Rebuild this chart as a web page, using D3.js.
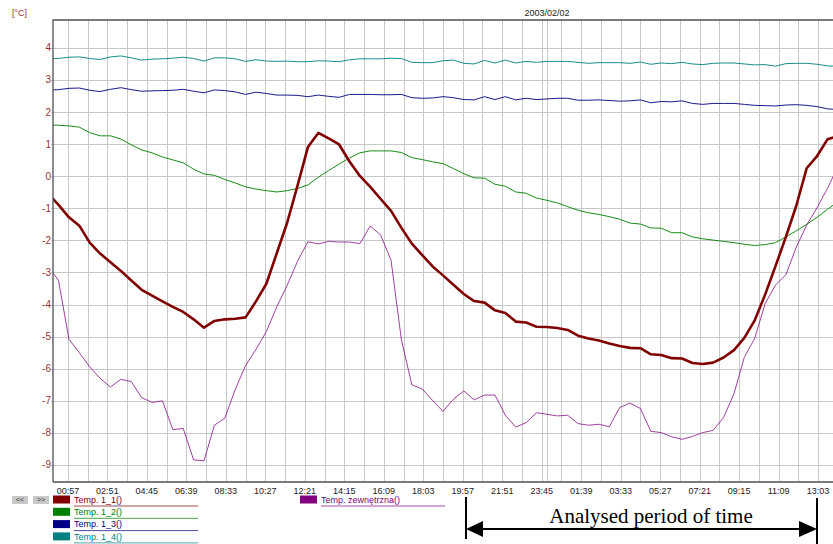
<!DOCTYPE html>
<meta charset="utf-8">
<style>
body { margin: 0; background: #fff; }
text { font-family: Arial, "Liberation Sans", sans-serif; }
</style>
<body>
<svg id="chart" width="833" height="544"></svg>
</body>
<script src="https://d3js.org/d3.v7.min.js"></script>
<script>

// half-hour samples, 2003/02/01 00:00 .. 2003/02/02 14:00
var times = d3.timeMinute.every(30).range(new Date(2003, 1, 1, 0, 0), new Date(2003, 1, 2, 14, 1));

var temp11 = [-0.55,-0.89,-1.28,-1.54,-2.07,-2.41,-2.68,-2.95,-3.25,-3.54,
  -3.72,-3.90,-4.07,-4.23,-4.46,-4.72,-4.51,-4.46,-4.44,-4.40,
  -3.90,-3.35,-2.40,-1.45,-0.29,0.91,1.35,1.18,0.99,0.46,
  0.01,-0.33,-0.71,-1.08,-1.61,-2.10,-2.46,-2.81,-3.09,-3.38,
  -3.67,-3.89,-3.94,-4.18,-4.26,-4.53,-4.56,-4.69,-4.70,-4.73,
  -4.79,-4.97,-5.06,-5.12,-5.21,-5.29,-5.35,-5.36,-5.55,-5.57,
  -5.67,-5.68,-5.82,-5.85,-5.81,-5.65,-5.42,-5.04,-4.49,-3.69,
  -2.80,-1.89,-0.92,0.25,0.63,1.15,1.25];

var temp12 = [1.60,1.59,1.57,1.53,1.36,1.26,1.26,1.16,0.98,0.82,
  0.73,0.60,0.51,0.42,0.22,0.07,0.03,-0.10,-0.21,-0.33,
  -0.40,-0.45,-0.49,-0.45,-0.38,-0.27,-0.03,0.18,0.38,0.57,
  0.73,0.79,0.79,0.79,0.74,0.58,0.52,0.45,0.39,0.24,
  0.08,-0.05,-0.06,-0.25,-0.31,-0.49,-0.53,-0.68,-0.75,-0.83,
  -0.95,-1.06,-1.14,-1.19,-1.26,-1.34,-1.46,-1.49,-1.61,-1.62,
  -1.76,-1.76,-1.89,-1.95,-1.99,-2.03,-2.07,-2.12,-2.16,-2.13,
  -2.07,-1.89,-1.70,-1.50,-1.28,-1.03,-0.80];

var temp13 = [2.68,2.70,2.74,2.75,2.68,2.64,2.71,2.76,2.70,2.65,
  2.66,2.67,2.68,2.71,2.65,2.60,2.69,2.67,2.63,2.55,
  2.62,2.58,2.53,2.53,2.52,2.48,2.53,2.49,2.46,2.55,
  2.55,2.55,2.54,2.54,2.55,2.45,2.43,2.44,2.48,2.45,
  2.39,2.38,2.48,2.39,2.48,2.38,2.43,2.39,2.41,2.43,
  2.43,2.37,2.37,2.38,2.36,2.34,2.35,2.38,2.29,2.33,
  2.32,2.35,2.27,2.24,2.27,2.27,2.27,2.24,2.21,2.20,
  2.19,2.22,2.23,2.21,2.17,2.10,2.08];

var temp14 = [3.66,3.67,3.71,3.72,3.67,3.64,3.72,3.75,3.69,3.62,
  3.65,3.66,3.68,3.71,3.67,3.59,3.69,3.69,3.66,3.58,
  3.63,3.59,3.58,3.59,3.57,3.57,3.60,3.59,3.57,3.63,
  3.66,3.66,3.66,3.68,3.67,3.55,3.54,3.54,3.60,3.62,
  3.52,3.50,3.61,3.53,3.62,3.53,3.58,3.55,3.58,3.58,
  3.58,3.55,3.52,3.54,3.54,3.54,3.52,3.56,3.49,3.53,
  3.51,3.55,3.50,3.48,3.52,3.53,3.53,3.50,3.47,3.48,
  3.43,3.51,3.52,3.52,3.49,3.44,3.43];

var tempOut = [-2.80,-3.25,-5.08,-5.50,-5.94,-6.30,-6.57,-6.33,-6.40,-6.90,
  -7.05,-7.00,-7.90,-7.86,-8.84,-8.87,-7.76,-7.54,-6.65,-5.90,
  -5.40,-4.84,-4.07,-3.40,-2.65,-2.04,-2.11,-2.03,-2.05,-2.05,
  -2.10,-1.55,-1.83,-2.62,-5.10,-6.50,-6.63,-6.99,-7.33,-6.95,
  -6.69,-6.97,-6.82,-6.82,-7.45,-7.82,-7.68,-7.37,-7.42,-7.47,
  -7.45,-7.71,-7.76,-7.73,-7.81,-7.21,-7.07,-7.24,-7.95,-7.99,
  -8.12,-8.20,-8.11,-7.99,-7.92,-7.52,-6.78,-5.64,-5.05,-3.97,
  -3.39,-3.07,-2.21,-1.52,-0.98,-0.38,0.30];

var seriesNames = ["Temp. 1_1()", "Temp. 1_2()", "Temp. 1_3()", "Temp. 1_4()", "Temp. zewnętrzna()"];
var seriesColors = ["#800000", "#008000", "#000080", "#008080", "#800080"];
var seriesValues = [temp11, temp12, temp13, temp14, tempOut];
var seriesWidths = [2.6, 1, 1, 1, 1];

var xTickLabels = ["00:57","02:51","04:45","06:39","08:33","10:27","12:21","14:15","16:09","18:03",
  "19:57","21:51","23:45","01:39","03:33","05:27","07:21","09:15","11:09","13:03"];
var yTicks = [4, 3, 2, 1, 0, -1, -2, -3, -4, -5, -6, -7, -8, -9];

var svg = d3.select("#chart"),
    plotLeft = 53, plotRight = 833, plotTop = 20, plotBottom = 482;

var x = d3.scaleTime()
    .domain([new Date(2003, 1, 1, 0, 14), new Date(2003, 1, 2, 13, 46)])
    .range([plotLeft, plotRight]);

var y = d3.scaleLinear()
    .domain([-9.53, 4.87])
    .range([plotBottom, plotTop]);

// grid lines every 57 minutes, every second one labelled
var day0 = new Date(2003, 1, 1, 0, 0);
var gridTimes = d3.range(0, 41).map(function(i) { return d3.timeMinute.offset(day0, 57 * i); })
    .filter(function(t) { return t >= x.domain()[0] && t <= x.domain()[1]; });
var labelTimes = xTickLabels.map(function(s, i) { return d3.timeMinute.offset(day0, 57 * (2 * i + 1)); });
var midnight = new Date(2003, 1, 2, 0, 0);

svg.append("rect").attr("width", 833).attr("height", 544).attr("fill", "#fff");

var grid = svg.append("g").attr("stroke", "#c8c8c8").attr("shape-rendering", "crispEdges");
grid.selectAll(".vg")
  .data(gridTimes.concat([midnight]))
  .enter().append("line")
    .attr("x1", function(d) { return Math.round(x(d)) + 0.5; })
    .attr("x2", function(d) { return Math.round(x(d)) + 0.5; })
    .attr("y1", plotTop).attr("y2", plotBottom);
grid.selectAll(".hg")
  .data(yTicks)
  .enter().append("line")
    .attr("x1", plotLeft - 2).attr("x2", plotRight)
    .attr("y1", function(d) { return Math.round(y(d)) + 0.5; })
    .attr("y2", function(d) { return Math.round(y(d)) + 0.5; });

// series
svg.append("clipPath").attr("id", "clip")
  .append("rect").attr("x", plotLeft).attr("y", plotTop).attr("width", plotRight - plotLeft).attr("height", plotBottom - plotTop);

var line = d3.line()
    .x(function(d, i) { return x(times[i]); })
    .y(function(d) { return y(d); });

var order = [3, 2, 1, 4, 0];
svg.append("g").attr("clip-path", "url(#clip)")
  .selectAll("path")
  .data(order)
  .enter().append("path")
    .attr("fill", "none")
    .attr("stroke", function(k) { return seriesColors[k]; })
    .attr("stroke-opacity", function(k) { return k == 4 ? 0.75 : (k == 0 ? 1 : 0.9); })
    .attr("stroke-width", function(k) { return seriesWidths[k]; })
    .attr("stroke-linejoin", "round")
    .attr("d", function(k) { return line(seriesValues[k]); });

// frame
svg.append("path")
    .attr("d", "M" + plotLeft + "," + plotBottom + "V" + plotTop + "H" + plotRight + "M" + plotLeft + "," + plotBottom + "H" + plotRight)
    .attr("fill", "none")
    .attr("stroke", "#505050")
    .attr("stroke-width", 1.3);

// tick labels
svg.append("g").selectAll("text")
  .data(xTickLabels)
  .enter().append("text")
    .attr("x", function(d, i) { return x(labelTimes[i]); })
    .attr("y", 491)
    .attr("dy", "0.35em")
    .attr("text-anchor", "middle")
    .attr("font-size", "9px")
    .attr("fill", "#222")
    .text(function(d) { return d; });

svg.append("g").selectAll("text")
  .data(yTicks)
  .enter().append("text")
    .attr("x", 51)
    .attr("y", function(d) { return y(d); })
    .attr("dy", "0.35em")
    .attr("text-anchor", "end")
    .attr("font-size", "10px")
    .attr("fill", "#993333")
    .text(function(d) { return d; });

svg.append("text")
    .attr("x", 12).attr("y", 16)
    .attr("font-size", "9px")
    .attr("fill", "#993333")
    .text("[°C]");

svg.append("text")
    .attr("x", x(midnight)).attr("y", 16)
    .attr("text-anchor", "middle")
    .attr("font-size", "9px")
    .attr("fill", "#222")
    .text("2003/02/02");

// legend
var buttons = svg.append("g");
[["<<", 12], [">>", 33]].forEach(function(b) {
  buttons.append("rect").attr("x", b[1]).attr("y", 496).attr("width", 16).attr("height", 8).attr("fill", "#c8c8c8");
  buttons.append("text").attr("x", b[1] + 8).attr("y", 500).attr("dy", "0.35em")
    .attr("text-anchor", "middle").attr("font-size", "7px").attr("fill", "#333").text(b[0]);
});

var legendPos = [[53, 499.5, 198], [53, 511.8, 198], [53, 524.1, 198], [53, 536.4, 198], [300, 499.5, 445]];
var legend = svg.append("g").selectAll("g")
  .data(seriesNames)
  .enter().append("g")
    .attr("transform", function(d, i) { return "translate(" + legendPos[i][0] + "," + legendPos[i][1] + ")"; });

legend.append("rect")
    .attr("x", 0).attr("y", -4)
    .attr("width", 17).attr("height", 8)
    .attr("fill", function(d, i) { return seriesColors[i]; });

legend.append("text")
    .attr("x", 21).attr("dy", "0.35em")
    .attr("font-size", "9px")
    .attr("fill", function(d, i) { return seriesColors[i]; })
    .text(function(d) { return d; });

legend.append("line")
    .attr("x1", 21).attr("x2", function(d, i) { return legendPos[i][2] - legendPos[i][0]; })
    .attr("y1", 6.5).attr("y2", 6.5)
    .attr("stroke", function(d, i) { return seriesColors[i]; })
    .attr("stroke-opacity", 0.7);

// analysed period annotation
var a0 = 466, a1 = 817, ay = 529;
var note = svg.append("g").attr("fill", "#000").attr("stroke", "#000");
note.append("line").attr("x1", a0).attr("x2", a0).attr("y1", 497).attr("y2", 539).attr("stroke-width", 2);
note.append("line").attr("x1", a1).attr("x2", a1).attr("y1", 498).attr("y2", 544).attr("stroke-width", 2);
note.append("line").attr("x1", a0 + 10).attr("x2", a1 - 10).attr("y1", ay).attr("y2", ay).attr("stroke-width", 2);
note.append("path").attr("stroke", "none")
    .attr("d", "M" + a0 + "," + ay + "L" + (a0 + 17) + "," + (ay - 8) + "L" + (a0 + 17) + "," + (ay + 8) + "Z");
note.append("path").attr("stroke", "none")
    .attr("d", "M" + a1 + "," + ay + "L" + (a1 - 18) + "," + (ay - 8) + "L" + (a1 - 18) + "," + (ay + 8) + "Z");

svg.append("text")
    .attr("x", 651).attr("y", 523)
    .attr("text-anchor", "middle")
    .style("font-family", "'Liberation Serif', 'Times New Roman', serif")
    .attr("font-size", "21px")
    .attr("fill", "#000")
    .text("Analysed period of time");

</script>
